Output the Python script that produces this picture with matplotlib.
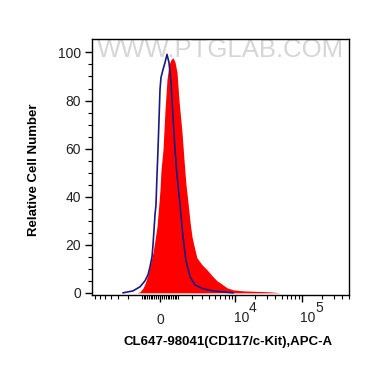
import numpy as np
import matplotlib
matplotlib.use("Agg")
import matplotlib.pyplot as plt

plt.rcParams['font.family'] = ['Liberation Sans', 'DejaVu Sans']

# isotype control (blue outline)
ctrl_x = [-2503, -1633, -1136, -823, -648, -537, -425, -371, -264, -211, -158,
          -105, -53, 0, 53, 158, 264, 371, 480, 592, 706, 823, 945, 1136, 1338,
          1553, 1871, 2313, 3170, 4601, 6566, 9338]
ctrl_y = [0, 0.8, 2.5, 5, 7.5, 10.8, 15, 20, 32.5, 36.7, 49, 59.6, 72, 84.6,
          89.6, 92.9, 95.8, 99.2, 95.8, 87.5, 73.3, 59.6, 49, 36.7, 23.3, 13.3,
          6.7, 3.3, 1.7, 0.8, 0.4, 0]

# CL647-98041 stained sample (red fill)
samp_x = [-1338, -1136, -945, -823, -648, -537, -371, -264, -158, -53, 0, 53,
          158, 264, 371, 480, 592, 706, 823, 945, 1071, 1270, 1409, 1553, 1710,
          1871, 2042, 2313, 2503, 3050, 3691, 4601, 5316, 5913, 7561, 9338,
          13208, 21390, 33480, 47240, 52300]
samp_y = [0, 0.4, 2, 3.8, 7.5, 11, 16.7, 22, 27.5, 37.5, 43, 51, 59.6, 76,
          88.8, 95, 97, 97.8, 96, 91.7, 80, 66.7, 55.4, 45, 37.5, 29.6, 23.3,
          17.9, 14.6, 11.7, 9.6, 6.7, 5, 4.2, 2.1, 1.25, 0.8, 0.6, 0.4, 0, 0]

major_x = [0, 1e4, 1e5]
decades = [(1e4, '4'), (1e5, '5')]
minor_x = ([-7000, -6000, -5000, -4000, -3000, -2000, -1000]
           + list(range(-900, 0, 100)) + list(range(100, 1000, 100))
           + [1000, 2000, 3000, 4000, 5000, 6000, 7000, 8000, 9000]
           + [2e4, 3e4, 4e4, 5e4, 6e4, 7e4, 8e4, 9e4]
           + [2e5, 3e5, 4e5, 5e5])

W = 1529.0


def fwd(v):
	return np.arcsinh(np.asarray(v, dtype=float) / W)


def inv(u):
	return W * np.sinh(np.asarray(u, dtype=float))


fig = plt.figure(figsize=(3.70, 3.67), dpi=100)
ax = fig.add_axes([92 / 370, 1 - 294.5 / 367, 257 / 370, 255.5 / 367])
ax.set_xscale('function', functions=(fwd, inv))
ax.set_xlim(-7840, 506000)
ax.set_ylim(-0.7, 105.6)

ax.text(0.5, 0.955, 'WWW.PTGLAB.COM', transform=ax.transAxes, ha='center',
        va='center', fontsize=18.5, color='#d6d6d6', zorder=0)

ax.fill_between(samp_x, samp_y, 0, color='#ff0000', linewidth=0, zorder=2)
ax.plot(ctrl_x, ctrl_y, color='#1a1a80', linewidth=1.2, zorder=3)

ax.set_xticks(major_x)
ax.set_xticklabels(['0', '', ''])
ax.set_xticks(minor_x, minor=True)
ax.set_yticks([0, 20, 40, 60, 80, 100])
ax.set_yticks(np.arange(0, 105, 5), minor=True)

# decade labels: "10" starting at the tick, exponent at full size
for xv, ex in decades:
	ax.annotate('10', xy=(xv, 0), xycoords=('data', 'axes fraction'),
	            xytext=(-1, -17), textcoords='offset points', ha='left',
	            va='center', fontsize=10, color='#222222')
	ax.annotate(ex, xy=(xv, 0), xycoords=('data', 'axes fraction'),
	            xytext=(9.5, -10), textcoords='offset points', ha='left',
	            va='center', fontsize=10, color='#222222')

ax.tick_params(which='major', length=5, width=1, labelsize=10,
               labelcolor='#222222', pad=3)
ax.tick_params(which='minor', length=3, width=0.8)
ax.tick_params(axis='x', which='major', pad=8)
for s in ax.spines.values():
	s.set_linewidth(1)

fig.text(228 / 370, 1 - 342 / 367, 'CL647-98041(CD117/c-Kit),APC-A',
         ha='center', va='center', fontsize=9.5, fontweight='bold')
fig.text(34 / 370, 1 - 170 / 367, 'Relative Cell Number', rotation=90,
         ha='center', va='center', fontsize=9.5, fontweight='bold')

fig.savefig('out.png', dpi=100)
